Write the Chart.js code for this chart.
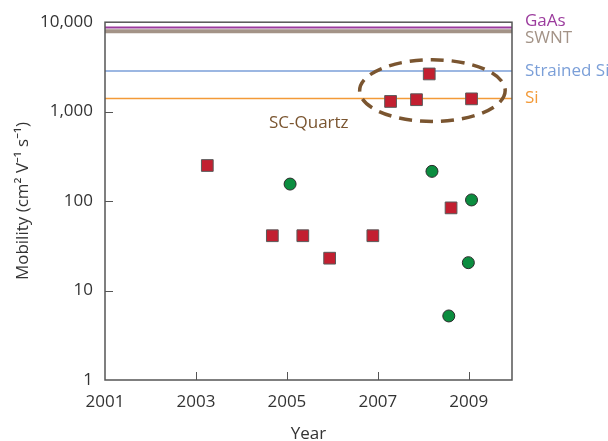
<!DOCTYPE html>
<html lang="en">
<head>
  <meta charset="UTF-8">
  <title>Mobility vs Year</title>
  <script src="https://cdn.jsdelivr.net/npm/chart.js"></script>
  <style>
    html, body { margin: 0; padding: 0; background: #fff; }
    #wrap { width: 608px; height: 441px; }
  </style>
</head>
<body>
  <div id="wrap"><canvas id="grafico" width="608" height="441"></canvas></div>

  <script>
    // Axis ticks
    const xTicks = [2001, 2003, 2005, 2007, 2009];
    const yTicks = [1, 10, 100, 1000, 10000];

    // Red squares (year, mobility)
    const squareYears = [2003.25, 2004.68, 2005.35, 2005.94, 2006.89, 2008.61, 2007.28, 2007.85, 2008.13, 2009.06];
    const squareValues = [250, 41, 41, 23, 41, 84, 1300, 1360, 2640, 1390];

    // Green circles (year, mobility)
    const circleYears = [2005.07, 2008.19, 2009.06, 2008.99, 2008.56];
    const circleValues = [155, 215, 103, 20.5, 5.2];

    // Reference materials (horizontal lines)
    const refNames = ["GaAs", "SWNT", "Strained Si", "Si"];
    const refValues = [8700, 7900, 2850, 1400];
    const refColors = ["#9b3b9d", "#a39387", "#7b9fd8", "#f39a38"];
    const refWidths = [2, 4, 1.5, 1.5];
    const refLabelShift = [-6, 7, 0, 0];

    const xMin = 2001, xMax = 2009.95;

    const datasets = [];
    refNames.forEach((name, i) => {
      datasets.push({
        type: "line",
        label: name,
        data: [{ x: xMin, y: refValues[i] }, { x: xMax, y: refValues[i] }],
        borderColor: refColors[i],
        borderWidth: refWidths[i],
        pointRadius: 0,
        order: 2
      });
    });
    datasets.push({
      label: "squares",
      data: squareYears.map((x, i) => ({ x: x, y: squareValues[i] })),
      pointStyle: "rect",
      pointRadius: 8.3,
      backgroundColor: "#c21f30",
      borderColor: "#5a5a5a",
      borderWidth: 1,
      order: 1
    });
    datasets.push({
      label: "circles",
      data: circleYears.map((x, i) => ({ x: x, y: circleValues[i] })),
      pointStyle: "circle",
      pointRadius: 6,
      backgroundColor: "#0b8d3f",
      borderColor: "#2b2b2b",
      borderWidth: 1,
      order: 1
    });

    const fontFam = "'Open Sans', 'Noto Sans', sans-serif";
    const fontSize = 17;

    // frame, inward ticks, labels, ellipse
    const extras = {
      id: "extras",
      afterDatasetsDraw(chart) {
        const ctx = chart.ctx;
        const a = chart.chartArea;
        const xs = chart.scales.x, ys = chart.scales.y;

        // dashed ellipse around the SC-Quartz points
        const cx = xs.getPixelForValue(2008.2), cy = ys.getPixelForValue(1720);
        const rx = xs.getPixelForValue(2009.8) - cx;
        const ry = cy - ys.getPixelForValue(3800);
        ctx.save();
        ctx.strokeStyle = "#7a5530";
        ctx.lineWidth = 3.5;
        ctx.setLineDash([13, 8]);
        ctx.beginPath();
        ctx.ellipse(cx, cy, rx, ry, 0, 0, Math.PI * 2);
        ctx.stroke();
        ctx.restore();

        ctx.save();
        ctx.fillStyle = "#7a5530";
        ctx.font = fontSize + "px " + fontFam;
        ctx.textBaseline = "middle";
        ctx.fillText("SC-Quartz", 269, 123);
        ctx.restore();

        // frame
        ctx.save();
        ctx.strokeStyle = "#555";
        ctx.lineWidth = 1.5;
        ctx.strokeRect(a.left, a.top, a.right - a.left, a.bottom - a.top);
        // inward ticks
        ctx.lineWidth = 1;
        ctx.beginPath();
        xTicks.slice(1).forEach(v => {
          const px = Math.round(xs.getPixelForValue(v)) + 0.5;
          ctx.moveTo(px, a.bottom);
          ctx.lineTo(px, a.bottom - 8);
        });
        yTicks.slice(1, -1).forEach(v => {
          const py = Math.round(ys.getPixelForValue(v)) + 0.5;
          ctx.moveTo(a.left, py);
          ctx.lineTo(a.left + 8, py);
        });
        ctx.stroke();
        ctx.restore();

        // reference labels on the right
        ctx.save();
        ctx.font = fontSize + "px " + fontFam;
        ctx.textBaseline = "middle";
        refNames.forEach((name, i) => {
          ctx.fillStyle = refColors[i];
          ctx.fillText(name, a.right + 13, ys.getPixelForValue(refValues[i]) + refLabelShift[i]);
        });
        ctx.restore();
      }
    };

    new Chart(document.getElementById("grafico"), {
      type: "scatter",
      data: { datasets: datasets },
      options: {
        responsive: false,
        animation: false,
        layout: { padding: { top: 19, right: 96, left: 0, bottom: 0 } },
        plugins: { legend: { display: false }, tooltip: { enabled: false } },
        scales: {
          x: {
            type: "linear",
            min: xMin,
            max: xMax,
            afterBuildTicks: s => { s.ticks = xTicks.map(v => ({ value: v })); },
            afterFit: s => { s.height = 61; },
            grid: { display: false, drawTicks: false },
            border: { display: false },
            ticks: { color: "#333", font: { family: fontFam, size: fontSize }, padding: 12, maxRotation: 0, callback: v => String(v) },
            title: { display: true, text: "Year", color: "#333", font: { family: fontFam, size: fontSize, lineHeight: 1 }, padding: { top: 0, bottom: -2 } }
          },
          y: {
            type: "logarithmic",
            min: 1,
            max: 10000,
            afterBuildTicks: s => { s.ticks = yTicks.map(v => ({ value: v })); },
            afterFit: s => { s.width = 105; },
            grid: { display: false, drawTicks: false },
            border: { display: false },
            ticks: { color: "#333", font: { family: fontFam, size: fontSize }, padding: 12, callback: v => v.toLocaleString("en-US") },
            title: { display: true, text: "Mobility (cm² V⁻¹ s⁻¹)", color: "#333", font: { family: fontFam, size: fontSize }, padding: { top: 13, bottom: 0 } }
          }
        }
      },
      plugins: [extras]
    });
  </script>
</body>
</html>
